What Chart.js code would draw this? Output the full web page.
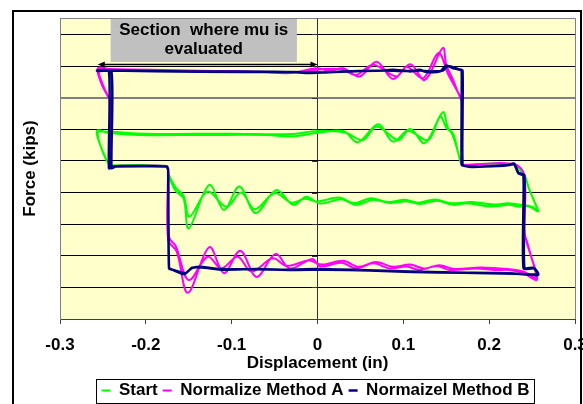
<!DOCTYPE html>
<html>
<head>
<meta charset="utf-8">
<title>Force vs Displacement</title>
<script src="https://cdn.jsdelivr.net/npm/chart.js@4.4.1/dist/chart.umd.min.js"></script>
<style>
  html, body { margin: 0; padding: 0; background: #ffffff; overflow: hidden; }
  #wrap { width: 583px; height: 410px; }
</style>
</head>
<body>
<div id="wrap"><canvas id="chart" width="583" height="410"></canvas></div>
<script>
// Axis ticks and grid levels
const xTickValues = [-0.3, -0.2, -0.1, 0, 0.1, 0.2, 0.3];
const xTickLabels = ['-0.3', '-0.2', '-0.1', '0', '0.1', '0.2', '0.3'];
const yGridLevels = [1, 2, 3, 4, 5, 6, 7, 8, 9];

const seriesNames = ['Start', 'Normalize Method A', 'Normaizel Method B'];

// Hysteresis loops as [displacement, force] pairs, two cycles each
const startLoop = [
  [-0.174, 4.72], [-0.174, 4.60], [-0.166, 4.08], [-0.156, 3.81], [-0.150, 2.87],
  [-0.126, 4.24], [-0.109, 3.45], [-0.091, 4.19], [-0.072, 3.35], [-0.048, 4.08],
  [-0.028, 3.61], [-0.013, 3.87], [0.003, 3.65], [0.028, 3.79], [0.045, 3.61],
  [0.065, 3.77], [0.084, 3.67], [0.104, 3.72], [0.119, 3.64], [0.139, 3.74],
  [0.158, 3.61], [0.174, 3.66], [0.201, 3.56], [0.224, 3.61], [0.232, 3.56],
  [0.247, 3.56], [0.257, 3.40], [0.253, 3.70], [0.247, 4.08], [0.242, 4.50],
  [0.240, 4.56], [0.229, 4.88], [0.172, 4.88], [0.168, 4.88], [0.164, 5.25],
  [0.158, 5.86], [0.152, 6.04], [0.146, 6.54], [0.125, 5.56], [0.108, 6.01],
  [0.088, 5.61], [0.071, 6.16], [0.047, 5.59], [0.030, 5.95], [-0.001, 5.88],
  [-0.032, 5.77], [-0.059, 5.82], [-0.137, 5.82], [-0.207, 5.82], [-0.242, 5.88],
  [-0.257, 5.95], [-0.250, 5.29], [-0.242, 4.87], [-0.238, 4.86], [-0.176, 4.84],
  [-0.174, 4.72],
  [-0.174, 4.60], [-0.165, 4.15], [-0.156, 3.90], [-0.149, 3.24], [-0.128, 4.03],
  [-0.106, 3.55], [-0.089, 4.00], [-0.073, 3.47], [-0.050, 3.98], [-0.030, 3.68],
  [-0.015, 3.80], [0.000, 3.72], [0.025, 3.84], [0.043, 3.66], [0.062, 3.82],
  [0.082, 3.70], [0.102, 3.77], [0.117, 3.68], [0.137, 3.78], [0.156, 3.66],
  [0.180, 3.70], [0.205, 3.62], [0.222, 3.66], [0.235, 3.62], [0.250, 3.55],
  [0.256, 3.45], [0.252, 3.75], [0.246, 4.15], [0.241, 4.55], [0.229, 4.88],
  [0.172, 4.88], [0.168, 4.88], [0.163, 5.35], [0.156, 5.90], [0.150, 6.05],
  [0.143, 6.40], [0.129, 5.66], [0.106, 5.95], [0.094, 5.66], [0.069, 6.09],
  [0.053, 5.66], [0.032, 5.90], [0.000, 5.95], [-0.030, 5.85], [-0.100, 5.86],
  [-0.200, 5.86], [-0.245, 5.92], [-0.256, 5.90], [-0.249, 5.20], [-0.241, 4.85],
  [-0.237, 4.85], [-0.176, 4.84], [-0.174, 4.72]
];

const methodALoop = [
  [-0.174, 4.75], [-0.174, 2.50], [-0.164, 2.13], [-0.151, 0.83], [-0.126, 2.27],
  [-0.109, 1.45], [-0.090, 2.16], [-0.071, 1.33], [-0.049, 2.06], [-0.032, 1.60],
  [-0.006, 1.90], [0.003, 1.66], [0.028, 1.78], [0.045, 1.60], [0.065, 1.76],
  [0.084, 1.60], [0.104, 1.66], [0.119, 1.55], [0.139, 1.68], [0.154, 1.55],
  [0.185, 1.60], [0.207, 1.55], [0.224, 1.55], [0.240, 1.45], [0.255, 1.23],
  [0.255, 1.45], [0.249, 1.97], [0.244, 2.45], [0.240, 2.82], [0.240, 4.53],
  [0.234, 4.61], [0.229, 4.90], [0.172, 4.87], [0.168, 4.87], [0.168, 5.00],
  [0.168, 6.85], [0.164, 7.14], [0.158, 7.56], [0.150, 8.04], [0.146, 8.57],
  [0.125, 7.56], [0.108, 8.06], [0.088, 7.59], [0.069, 8.14], [0.049, 7.67],
  [0.030, 7.93], [0.014, 7.85], [-0.001, 7.93], [-0.032, 7.78], [-0.067, 7.82],
  [-0.137, 7.85], [-0.195, 7.88], [-0.242, 7.91], [-0.256, 7.93], [-0.252, 7.46],
  [-0.244, 7.03], [-0.242, 6.93], [-0.242, 4.90], [-0.242, 4.78], [-0.238, 4.81],
  [-0.176, 4.84], [-0.174, 4.75],
  [-0.173, 2.60], [-0.165, 2.30], [-0.150, 1.23], [-0.128, 1.97], [-0.112, 1.60],
  [-0.093, 1.97], [-0.077, 1.50], [-0.052, 1.92], [-0.036, 1.68], [-0.010, 1.85],
  [0.005, 1.72], [0.030, 1.84], [0.048, 1.65], [0.068, 1.80], [0.088, 1.65],
  [0.108, 1.72], [0.124, 1.60], [0.142, 1.70], [0.160, 1.58], [0.190, 1.63],
  [0.222, 1.58], [0.240, 1.50], [0.254, 1.30], [0.254, 1.50], [0.248, 2.05],
  [0.243, 2.50], [0.241, 2.85], [0.241, 4.55], [0.229, 4.90], [0.172, 4.87],
  [0.168, 4.87], [0.168, 5.00], [0.168, 6.90], [0.162, 7.25], [0.152, 7.75],
  [0.141, 8.41], [0.123, 7.62], [0.104, 7.98], [0.092, 7.67], [0.065, 8.04],
  [0.045, 7.72], [0.028, 7.90], [0.005, 7.90], [-0.030, 7.80], [-0.100, 7.84],
  [-0.200, 7.87], [-0.245, 7.90], [-0.255, 7.90], [-0.250, 7.40], [-0.243, 7.00],
  [-0.241, 6.90], [-0.241, 4.92], [-0.241, 4.80], [-0.237, 4.82], [-0.176, 4.84],
  [-0.174, 4.75]
];

const methodBLoop = [
  [-0.174, 4.72], [-0.173, 1.62], [-0.170, 1.57], [-0.155, 1.42], [-0.147, 1.60],
  [-0.137, 1.65], [-0.114, 1.58], [-0.075, 1.57], [-0.040, 1.56], [0.000, 1.58],
  [0.050, 1.55], [0.107, 1.50], [0.160, 1.47], [0.224, 1.45], [0.257, 1.39],
  [0.252, 1.60], [0.240, 1.60], [0.240, 4.53], [0.234, 4.61], [0.229, 4.90],
  [0.224, 4.87], [0.200, 4.83], [0.180, 4.81], [0.172, 4.84], [0.168, 4.88],
  [0.168, 7.85], [0.166, 7.88], [0.158, 7.93], [0.150, 8.02], [0.143, 7.83],
  [0.127, 7.81], [0.119, 7.88], [0.108, 7.83], [0.088, 7.88], [0.069, 7.85],
  [0.030, 7.83], [-0.009, 7.78], [-0.032, 7.81], [-0.137, 7.82], [-0.242, 7.86],
  [-0.257, 7.86], [-0.243, 7.84], [-0.243, 4.77], [-0.238, 4.82], [-0.230, 4.84],
  [-0.176, 4.82], [-0.174, 4.72],
  [-0.173, 1.60], [-0.168, 1.55], [-0.154, 1.45], [-0.146, 1.62], [-0.135, 1.63],
  [-0.110, 1.56], [-0.070, 1.58], [-0.030, 1.55], [0.010, 1.56], [0.060, 1.53],
  [0.110, 1.49], [0.170, 1.46], [0.230, 1.43], [0.257, 1.42], [0.252, 1.62],
  [0.241, 1.62], [0.241, 4.55], [0.234, 4.63], [0.229, 4.92], [0.222, 4.86],
  [0.195, 4.82], [0.175, 4.83], [0.169, 4.88], [0.169, 7.86], [0.164, 7.90],
  [0.152, 8.00], [0.146, 7.86], [0.130, 7.83], [0.120, 7.86], [0.100, 7.84],
  [0.080, 7.86], [0.050, 7.84], [0.010, 7.80], [-0.050, 7.82], [-0.150, 7.83],
  [-0.240, 7.86], [-0.256, 7.84], [-0.240, 7.82], [-0.240, 4.77], [-0.235, 4.83],
  [-0.176, 4.82], [-0.174, 4.72]
];

const noteLines = ['Section  where mu is', 'evaluated'];

const FONT_FAMILY = "'Liberation Sans', Arial, Helvetica, sans-serif";
const boldFont = (size) => ({ family: FONT_FAMILY, size: size, weight: 'bold' });

const toPoints = (loop) => loop.map(([x, y]) => ({ x, y }));

// Pale yellow plot background
const plotBackground = {
  id: 'plotBackground',
  beforeDraw(chart) {
    const { ctx, chartArea: a } = chart;
    ctx.save();
    ctx.fillStyle = '#FFFFCC';
    ctx.fillRect(a.left, a.top, a.right - a.left, a.bottom - a.top);
    ctx.restore();
  }
};

// Centre the legend row under the plot area
const legendPlacement = {
  id: 'legendPlacement',
  afterLayout(chart) {
    const lg = chart.legend;
    if (!lg) return;
    const a = chart.chartArea;
    const shift = (a.left + a.right) / 2 - 2 - (lg.left + lg.right) / 2;
    lg.left += shift;
    lg.right += shift;
  }
};

// Grey note box with a double-headed arrow marking the evaluated span
const sectionNote = {
  id: 'sectionNote',
  afterDatasetsDraw(chart) {
    const { ctx, scales: { x, y } } = chart;
    const left = x.getPixelForValue(-0.241);
    const right = x.getPixelForValue(-0.024);
    const top = chart.chartArea.top;
    const bottom = y.getPixelForValue(8.13);
    ctx.save();
    ctx.fillStyle = '#C0C0C0';
    ctx.fillRect(left, top, right - left, bottom - top);
    ctx.fillStyle = '#000000';
    ctx.font = 'bold 17px ' + FONT_FAMILY;
    ctx.textAlign = 'center';
    ctx.textBaseline = 'middle';
    const cx = (left + right) / 2;
    ctx.fillText(noteLines[0], cx, top + 12);
    ctx.fillText(noteLines[1], cx, top + 31);

    const ay = Math.round(y.getPixelForValue(8.06)) + 0.5;
    const ax0 = x.getPixelForValue(-0.256);
    const ax1 = x.getPixelForValue(0);
    ctx.strokeStyle = '#000000';
    ctx.lineWidth = 1.5;
    ctx.beginPath();
    ctx.moveTo(ax0 + 4, ay);
    ctx.lineTo(ax1 - 4, ay);
    ctx.stroke();
    ctx.beginPath();
    ctx.moveTo(ax0, ay);
    ctx.lineTo(ax0 + 7, ay - 3);
    ctx.lineTo(ax0 + 7, ay + 3);
    ctx.closePath();
    ctx.moveTo(ax1, ay);
    ctx.lineTo(ax1 - 7, ay - 3);
    ctx.lineTo(ax1 - 7, ay + 3);
    ctx.closePath();
    ctx.fillStyle = '#000000';
    ctx.fill();
    ctx.restore();
  }
};

// Plot frame, centre-axis tick marks, legend box and outer border
const frame = {
  id: 'frame',
  afterDraw(chart) {
    const { ctx, chartArea: a, scales: { x, y } } = chart;
    ctx.save();
    ctx.strokeStyle = '#808080';
    ctx.lineWidth = 1;
    ctx.beginPath();
    ctx.moveTo(a.left, Math.round(a.top) + 0.5);
    ctx.lineTo(a.right + 0.5, Math.round(a.top) + 0.5);
    ctx.lineTo(a.right + 0.5, a.bottom);
    ctx.stroke();

    const x0 = Math.round(x.getPixelForValue(0));
    ctx.strokeStyle = '#303030';
    ctx.beginPath();
    yGridLevels.forEach((v) => {
      const py = Math.round(y.getPixelForValue(v)) + 0.5;
      ctx.moveTo(x0 - 6, py);
      ctx.lineTo(x0, py);
    });
    ctx.stroke();

    const hb = chart.legend && chart.legend.legendHitBoxes;
    if (hb && hb.length) {
      const l = Math.min(...hb.map((h) => h.left)) - 5;
      const r = Math.max(...hb.map((h) => h.left + h.width)) + 5;
      const t = hb[0].top - 3;
      const b = hb[0].top + hb[0].height + 4;
      ctx.strokeStyle = '#000000';
      ctx.lineWidth = 1;
      ctx.strokeRect(Math.round(l) + 0.5, Math.round(t) + 0.5, Math.round(r - l), Math.round(b - t));
    }

    ctx.strokeStyle = '#000000';
    ctx.lineWidth = 2;
    ctx.strokeRect(13, 11, 568, 600);
    ctx.restore();
  }
};

Chart.defaults.font.family = FONT_FAMILY;
Chart.defaults.color = '#000000';

new Chart(document.getElementById('chart'), {
  type: 'scatter',
  data: {
    datasets: [
      {
        label: seriesNames[0],
        data: toPoints(startLoop),
        borderColor: '#00FF00',
        backgroundColor: '#00FF00',
        borderWidth: 2,
        tension: 0.35,
        order: 3
      },
      {
        label: seriesNames[1],
        data: toPoints(methodALoop),
        borderColor: '#FF00FF',
        backgroundColor: '#FF00FF',
        borderWidth: 2,
        tension: 0.35,
        order: 2
      },
      {
        label: seriesNames[2],
        data: toPoints(methodBLoop),
        borderColor: '#000080',
        backgroundColor: '#000080',
        borderWidth: 2.5,
        tension: 0.2,
        order: 1
      }
    ]
  },
  options: {
    responsive: false,
    devicePixelRatio: 1,
    animation: false,
    events: [],
    showLine: true,
    elements: {
      point: { radius: 0, hoverRadius: 0 },
      line: { borderJoinStyle: 'round', borderCapStyle: 'round', fill: false }
    },
    layout: { padding: { left: 0, right: 8, top: 18, bottom: 1 } },
    scales: {
      x: {
        type: 'linear',
        min: -0.3,
        max: 0.3,
        afterBuildTicks: (s) => { s.ticks = xTickValues.map((v) => ({ value: v })); },
        afterFit: (s) => { s.height = 58; s.paddingLeft = 0; s.paddingRight = 0; },
        ticks: {
          callback: (v, i) => xTickLabels[i],
          font: boldFont(17),
          color: '#000000',
          padding: 11,
          maxRotation: 0,
          autoSkip: false
        },
        grid: {
          color: (c) => (c.tick && c.tick.value === 0 ? '#303030' : 'rgba(0,0,0,0)'),
          lineWidth: 1,
          drawTicks: true,
          tickLength: 5,
          tickColor: '#404040'
        },
        border: { display: true, color: '#404040', width: 1 },
        title: {
          display: true,
          text: 'Displacement (in)',
          font: boldFont(17),
          color: '#000000',
          padding: { top: 0, bottom: 3 }
        }
      },
      y: {
        type: 'linear',
        min: 0,
        max: 9.52,
        afterBuildTicks: (s) => { s.ticks = yGridLevels.map((v) => ({ value: v })); },
        afterFit: (s) => { s.width = 60; },
        ticks: { display: false },
        grid: {
          color: (c) => (c.tick && c.tick.value === 7 ? '#808080' : '#000000'),
          lineWidth: (c) => (c.tick && c.tick.value === 7 ? 2 : 1),
          drawTicks: false
        },
        border: { display: true, color: '#808080', width: 1 },
        title: {
          display: true,
          text: 'Force (kips)',
          font: boldFont(17),
          color: '#000000',
          padding: { top: 20, bottom: 0 }
        }
      }
    },
    plugins: {
      tooltip: { enabled: false },
      legend: {
        display: true,
        position: 'bottom',
        labels: {
          usePointStyle: true,
          pointStyle: 'line',
          pointStyleWidth: 9,
          padding: 5,
          font: boldFont(17),
          color: '#000000',
          sort: (a, b) => a.datasetIndex - b.datasetIndex
        }
      }
    }
  },
  plugins: [plotBackground, legendPlacement, sectionNote, frame]
});
</script>
</body>
</html>
